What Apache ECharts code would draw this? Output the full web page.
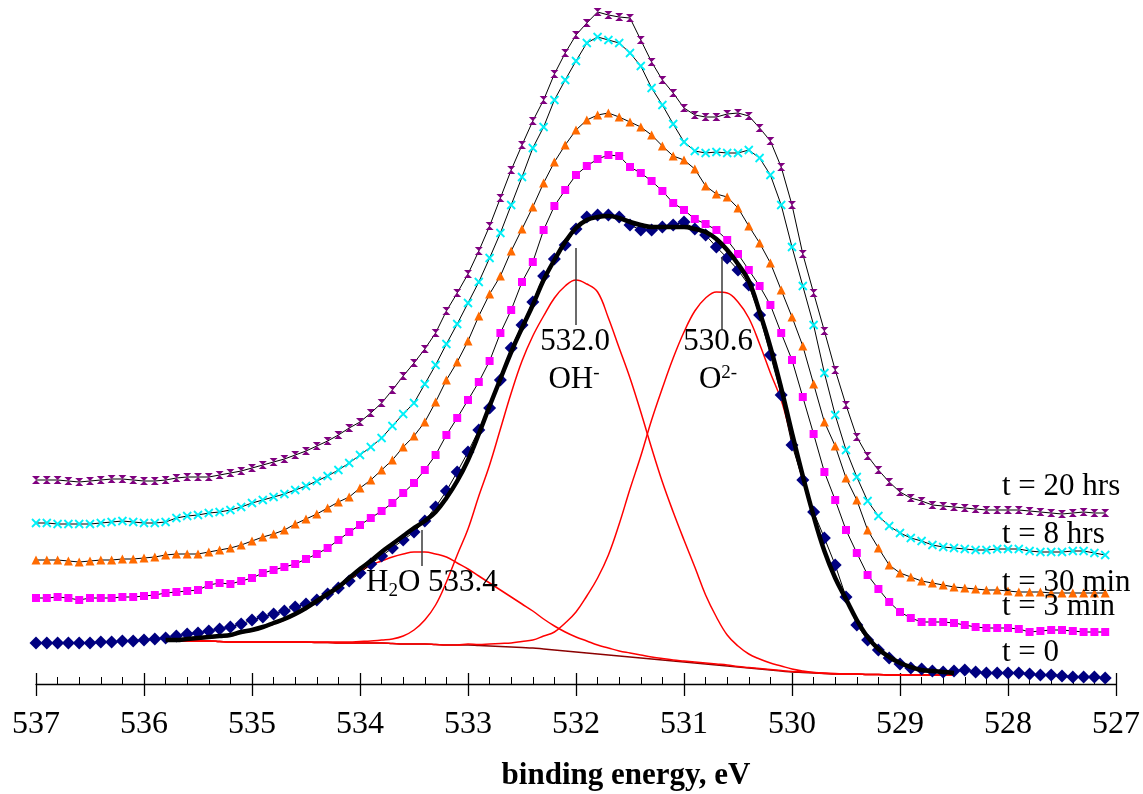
<!DOCTYPE html>
<html>
<head>
<meta charset="utf-8">
<script src="https://cdn.jsdelivr.net/npm/echarts@6/dist/echarts.min.js"></script>
<style>html,body{margin:0;padding:0;background:#fff}#c{width:1143px;height:794px}</style>
</head>
<body>
<div id="c"></div>
<script>
// ---- data (intensity, arbitrary units) ----
const E_START = 537.0;      // binding energy of first point (eV)
const E_STEP = 0.1;         // eV between points
const FIT_START = 535.8;    // first point of fitted curves

const t20hrs = [204,204,204,203,202,203,204,205,205,204,
 203,203,204,206,207,207,207,209,211,213,
 216,219,222,225,229,233,238,243,249,256,
 262,271,281,294,308,321,335,351,373,391,
 410,433,458,486,514,539,563,584,610,631,
 649,661,672,669,667,666,644,622,604,591,
 576,569,567,567,570,571,568,556,543,517,
 479,430,391,353,314,279,247,228,214,202,
 192,186,183,179,178,177,176,175,174,174,
 174,174,173,172,171,170,171,172,171,171];

const t8hrs = [161,161,160,160,160,160,161,162,163,162,
 161,161,162,166,168,169,171,172,174,177,
 181,184,187,190,194,198,203,208,214,221,
 229,237,246,258,270,281,300,319,340,360,
 381,402,426,451,479,507,536,557,584,604,
 623,641,647,644,641,631,618,596,579,560,
 542,533,531,532,531,531,534,526,509,479,
 437,398,359,311,269,234,207,183,168,158,
 151,146,143,139,137,136,135,134,134,135,
 135,135,133,132,132,132,133,133,131,129];

const t30min = [124,124,124,123,122,123,124,124,125,125,
 126,127,129,130,130,130,132,134,136,139,
 143,147,150,154,160,165,170,176,182,187,
 196,204,214,224,237,248,262,282,304,322,
 343,368,390,408,433,455,477,501,522,539,
 554,564,569,571,567,562,557,549,538,528,
 524,515,498,490,487,476,458,441,421,394,
 367,338,300,262,238,206,184,154,136,119,
 111,107,103,101,99,97,96,95,94,94,
 93,92,92,92,91,91,91,91,91,91];

const t3min = [86,86,87,86,84,86,86,86,87,87,
 88,89,91,92,93,94,99,101,100,103,
 106,111,114,117,120,125,130,136,144,152,
 159,166,173,181,191,201,214,229,249,266,
 284,302,323,351,374,402,422,454,478,494,
 509,518,525,529,528,517,511,503,493,481,
 474,465,460,454,444,430,414,398,379,351,
 324,287,250,212,184,154,131,109,95,82,
 72,66,62,62,62,61,59,57,56,56,
 56,55,52,53,54,54,53,52,52,52];

const t0 = [41,41,41,41,41,41,42,42,43,43,
 44,45,46,48,50,51,53,55,57,60,
 64,67,70,73,77,80,84,90,96,103,
 111,120,128,136,144,152,163,177,193,212,
 232,254,276,304,336,359,382,408,425,439,
 455,467,469,469,467,459,454,454,457,459,
 462,455,449,437,426,414,399,369,329,289,
 239,204,172,146,119,87,59,44,34,26,
 20,16,15,13,12,13,14,12,11,11,
 11,11,10,9,9,8,7,7,7,6];

const fitTotal = [44,44,45,46,47,48,49,52,54,57,
 61,65,70,76,83,90,97,106,115,123,
 132,140,148,156,163,172,186,203,224,250,
 278,305,332,356,379,404,424,442,456,464,
 467,468,466,462,459,457,457,457,457,455,
 452,445,434,420,403,372,337,296,251,208,
 168,133,106,85,64,47,35,27,21,17,
 14,13,12,11];

const background = [43,43,43,43,43,42.5,42,42,42,42,
 42,42,42,42,41.5,41.5,41,41,41,41,
 41,40.5,40,40,40,39.5,39,39,39,38.5,
 38,37.5,37,36.5,36,35,34,33,32,31,
 30,29,28,27,26,25,24,23,22,21,
 20,19,18,17,16,15,14,13,12,11.5,
 11,10.5,10,10,10,9.5,9.5,9,9,9,
 9,9,9,9];

const peakH2O = [43,43,44,45,46,47,48,51,53,56,
 60,64,69,75,82,89,96,104,112,119,
 123,127,130,132,132,130,127,121,115,108,
 101,94,87,80,73,65,58,52,47,43,
 39,36,33,31,29,27,25.5,24,23,22,
 21,20,19,17.5,16.5,15.5,14.5,13.5,12.5,12,
 11.5,11,10.5,10,10,9.5,9.5,9,9,9,
 9,9,9,9];

const peakOH = [43,43,43,43,43,42.5,42,42,42,42,
 42,42,42,42,42,42,42,42,42.5,43,
 44,45,48,54,64,79,102,129,155,188,
 219,255,291,323,348,368,386,398,404,400,
 392,366,336,306,272,236,202,172,144,117,
 89,67,49,38,30,25,21,18,15,13,
 11.5,10.5,10,10,10,9.5,9.5,9,9,9,
 9,9,9,9];

const peakO2 = [43,43,43,43,43,42.5,42,42,42,42,
 42,42,42,42,41.5,41.5,41,41,41,41,
 41,40.5,40,40,40,39.5,39,39,40,39.5,
 40,40.5,41,42.5,44,48,52,61,72,88,
 106,129,160,195,228,264,296,326,352,373,
 386,392,391,382,366,340,311,284,244,204,
 166,132.5,106,85,64,46.5,34.5,26,21,17,
 14,13,12,11];

const seriesNames = ['t = 20 hrs','t = 8 hrs','t = 30 min','t = 3 min','t = 0'];
const xTicks = {min: 527, max: 537, interval: 1};

// ---- build ----
function pairs(start, vals){ return vals.map((v,k)=>[+(start - k*E_STEP).toFixed(2), v]); }
const F = '"Liberation Serif","Times New Roman",serif';

const chart = echarts.init(document.getElementById('c'), null, {renderer:'canvas'});

function dataSeries(name, vals, symbol, size, color, stroke, z){
  return {
    name, type:'line', data: pairs(E_START, vals), z,
    symbol, symbolSize: size, showSymbol:true, showAllSymbol:true,
    lineStyle:{color:'#000', width:1},
    itemStyle: stroke ? {color: color, borderColor: color, borderWidth: 1.8} : {color: color, borderWidth:0},
    emphasis:{disabled:true}, silent:true
  };
}
function curve(name, vals, color, width, z){
  return {name, type:'line', data: pairs(FIT_START, vals), z, smooth:0.4, symbol:'none',
    lineStyle:{color, width}, emphasis:{disabled:true}, silent:true};
}

const option = {
  animation:false,
  backgroundColor:'#fff',
  grid:{left:36, right:27, top:0, bottom:110, containLabel:false},
  xAxis:[{
    type:'value', inverse:true, min:xTicks.min, max:xTicks.max, interval:xTicks.interval,
    axisLine:{show:true, onZero:false, lineStyle:{color:'#000', width:1.3}},
    axisTick:{show:true, inside:true, length:11, lineStyle:{color:'#000', width:1.3}},
    minorTick:{show:true, splitNumber:5, length:7, lineStyle:{color:'#000', width:1}},
    splitLine:{show:false},
    axisLabel:{color:'#000', fontFamily:F, fontSize:32, margin:25},
  },{
    type:'value', inverse:true, min:xTicks.min, max:xTicks.max, interval:xTicks.interval,
    position:'bottom',
    axisLine:{show:false},
    axisTick:{show:true, inside:false, length:12, lineStyle:{color:'#000', width:1.3}},
    axisLabel:{show:false}, splitLine:{show:false}
  }],
  yAxis:{type:'value', min:0, max:684, show:false},
  series:[
    dataSeries(seriesNames[0], t20hrs, 'path://M0,0L10,0L0,10L10,10Z', 8, '#800080', false, 2),
    dataSeries(seriesNames[1], t8hrs, 'path://M0,0L10,10M10,0L0,10', 8, '#00f0f8', true, 2),
    dataSeries(seriesNames[2], t30min, 'triangle', 9, '#ff6a00', false, 2),
    dataSeries(seriesNames[3], t3min, 'rect', 8, '#ff00ff', false, 2),
    Object.assign(curve('background', background, '#8b0000', 1.5, 3), {
      markLine:{silent:true, symbol:'none', label:{show:false},
        lineStyle:{color:'#3a3a3a', width:1.5, type:'solid'},
        data:[
          [{coord:[532.0,436]},{coord:[532.0,359]}],
          [{coord:[530.65,427]},{coord:[530.65,355]}],
          [{coord:[533.43,154]},{coord:[533.43,118]}]
        ]}
    }),
    curve('H2O', peakH2O, '#ff0000', 1.5, 3),
    curve('OH', peakOH, '#ff0000', 1.5, 3),
    curve('O2', peakO2, '#ff0000', 1.5, 3),
    dataSeries(seriesNames[4], t0, 'diamond', 13, '#000080', false, 4),
    curve('fit', fitTotal, '#000', 4.5, 5)
  ],
  graphic:[]
};
chart.setOption(option);

const big = {fontSize:31, fontFamily:F, fill:'#000', lineHeight:36};
const sup = {fontSize:19, fontFamily:F, fill:'#000', lineHeight:36, verticalAlign:'top', padding:[2,0,0,0]};
const sub = {fontSize:19, fontFamily:F, fill:'#000', lineHeight:36, verticalAlign:'bottom'};
function txt(text, x, y, align){
  return {type:'text', x, y, silent:true, z:10,
    style:{text, align: align||'left', verticalAlign:'middle', rich:{b:big, sup, sub}, fontSize:31, fontFamily:F, fill:'#000'}};
}
const labels = [
  txt('{b|t = 20 hrs}', 1002, 487),
  txt('{b|t = 8 hrs}', 1002, 535),
  txt('{b|t = 30 min}', 1002, 583),
  txt('{b|t = 3 min}', 1002, 607),
  txt('{b|t = 0}', 1002, 653),
  txt('{b|532.0}', 575, 342, 'center'),
  txt('{b|OH}{sup|-}', 574, 380, 'center'),
  txt('{b|530.6}', 718, 342, 'center'),
  txt('{b|O}{sup|2-}', 718, 380, 'center'),
  txt('{b|H}{sub|2}{b|O 533.4}', 366, 583, 'left'),
  {type:'text', x:626, y:776, silent:true, z:10,
   style:{text:'binding energy, eV', align:'center', verticalAlign:'middle',
     font:'bold 31px "Liberation Serif","Times New Roman",serif', fill:'#000'}}
];
chart.setOption({graphic: labels});
</script>
</body>
</html>
